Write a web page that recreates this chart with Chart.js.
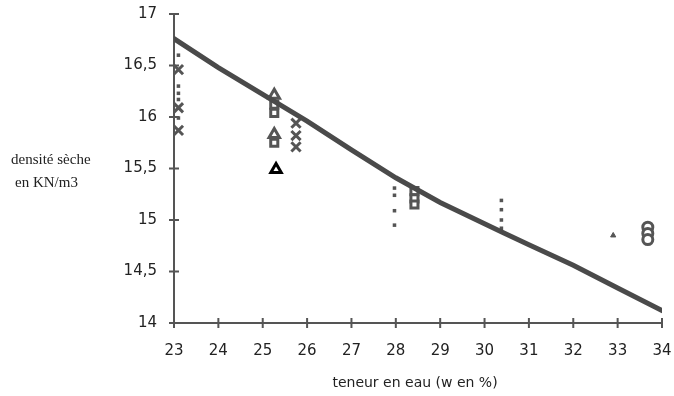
<!DOCTYPE html>
<html>
<head>
<meta charset="utf-8">
<script src="https://cdn.jsdelivr.net/npm/chart.js@4"></script>
<style>
  html, body { margin: 0; padding: 0; background: #fff; }
  #wrap { width: 674px; height: 396px; }
</style>
</head>
<body>
<div id="wrap"><canvas id="densite"></canvas></div>
<script>
// Droite d'ajustement (teneur en eau / densité sèche)
const fitW = [23, 24, 25, 26, 27, 28, 29, 30.4, 31, 32, 33, 34];
const fitD = [16.76, 16.48, 16.22, 15.96, 15.68, 15.41, 15.17, 14.88, 14.76, 14.56, 14.34, 14.12];

// Mesures, par type de symbole
const crossW = [23.1, 23.1, 23.1, 25.75, 25.75, 25.75];
const crossD = [16.46, 16.09, 15.87, 15.94, 15.82, 15.71];
const dotW = [23.1, 23.1, 23.1, 23.1, 23.1, 27.97, 27.97, 27.97, 27.97, 30.38, 30.38, 30.38, 30.38];
const dotD = [16.6, 16.3, 16.23, 16.17, 15.99, 15.31, 15.24, 15.09, 14.95, 15.19, 15.1, 15.0, 14.92];
const triW = [25.26, 25.26];
const triD = [16.21, 15.83];
const boxW = [25.26, 25.26, 25.26];
const boxD = [16.12, 16.04, 15.75];
const deltaW = [25.3];
const deltaD = [15.49];
const sqW = [28.42, 28.42, 28.42];
const sqD = [15.28, 15.21, 15.15];
const smallTriW = [32.9];
const smallTriD = [14.85];
const ringW = [33.68, 33.68, 33.68];
const ringD = [14.93, 14.87, 14.81];

const xTicks = [23, 24, 25, 26, 27, 28, 29, 30, 31, 32, 33, 34];
const yTicks = [14, 14.5, 15, 15.5, 16, 16.5, 17];

const pts = (xs, ys) => xs.map((x, i) => ({ x: x, y: ys[i] }));
const grey = '#555';

// petits traits qui traversent les axes
const crossTicks = {
  id: 'crossTicks',
  afterDraw(chart) {
    const ctx = chart.ctx;
    const xs = chart.scales.x, ys = chart.scales.y;
    const a = chart.chartArea;
    ctx.save();
    ctx.strokeStyle = grey;
    ctx.lineWidth = 2;
    xTicks.forEach(v => {
      const px = xs.getPixelForValue(v);
      ctx.beginPath();
      ctx.moveTo(px, a.bottom - 5);
      ctx.lineTo(px, a.bottom + 5);
      ctx.stroke();
    });
    yTicks.forEach(v => {
      const py = ys.getPixelForValue(v);
      ctx.beginPath();
      ctx.moveTo(a.left - 5, py);
      ctx.lineTo(a.left + 5, py);
      ctx.stroke();
    });
    ctx.restore();
  }
};

// titres des axes
const axisTitles = {
  id: 'axisTitles',
  afterDraw(chart) {
    const ctx = chart.ctx;
    ctx.save();
    ctx.fillStyle = '#222';
    ctx.textBaseline = 'middle';
    ctx.font = '15px "Liberation Serif", serif';
    ctx.textAlign = 'left';
    ctx.fillText('densité sèche', 11, 160);
    ctx.fillText('en KN/m3', 15, 183);
    ctx.font = '14px "DejaVu Sans", sans-serif';
    ctx.textAlign = 'center';
    ctx.fillText('teneur en eau (w en %)', 415, 383);
    ctx.restore();
  }
};

const ctxDensite = document.getElementById('densite').getContext('2d');
const densiteChart = new Chart(ctxDensite, {
  type: 'scatter',
  data: {
    datasets: [
      {
        type: 'line',
        data: pts(fitW, fitD),
        borderColor: '#4a4a4a',
        borderWidth: 5,
        pointRadius: 0,
        tension: 0,
        borderCapStyle: 'round'
      },
      {
        data: pts(crossW, crossD),
        pointStyle: 'crossRot',
        pointRadius: 6.5,
        borderWidth: 3,
        borderColor: grey
      },
      {
        data: pts(dotW, dotD),
        pointStyle: 'rect',
        pointRadius: 2.5,
        borderWidth: 0,
        backgroundColor: grey
      },
      {
        data: pts(triW, triD),
        pointStyle: 'triangle',
        pointRadius: 6,
        borderWidth: 3,
        borderColor: grey,
        backgroundColor: '#fff'
      },
      {
        data: pts(boxW, boxD),
        pointStyle: 'rect',
        pointRadius: 5,
        borderWidth: 3,
        borderColor: grey,
        backgroundColor: '#fff'
      },
      {
        data: pts(deltaW, deltaD),
        pointStyle: 'triangle',
        pointRadius: 6,
        borderWidth: 3,
        borderColor: '#000',
        backgroundColor: '#fff'
      },
      {
        data: pts(sqW, sqD),
        pointStyle: 'rect',
        pointRadius: 5,
        borderWidth: 3,
        borderColor: grey,
        backgroundColor: '#fff'
      },
      {
        data: pts(smallTriW, smallTriD),
        pointStyle: 'triangle',
        pointRadius: 3,
        borderWidth: 1,
        borderColor: grey,
        backgroundColor: grey
      },
      {
        data: pts(ringW, ringD),
        pointStyle: 'circle',
        pointRadius: 5,
        borderWidth: 3,
        borderColor: grey,
        backgroundColor: '#fff'
      }
    ]
  },
  options: {
    responsive: true,
    maintainAspectRatio: false,
    animation: false,
    layout: { autoPadding: false, padding: { left: 0, top: 14, right: 12, bottom: 0 } },
    plugins: {
      legend: { display: false },
      tooltip: { enabled: false }
    },
    scales: {
      x: {
        type: 'linear',
        min: 23,
        max: 34,
        afterFit: s => { s.height = 73; s.paddingRight = 0; },
        afterBuildTicks: s => { s.ticks = xTicks.map(v => ({ value: v })); },
        border: { display: true, color: grey, width: 2 },
        grid: { display: true, drawOnChartArea: false, drawTicks: false },
        ticks: {
          padding: 19,
          color: '#222',
          font: { family: '"DejaVu Sans", sans-serif', size: 15 }
        }
      },
      y: {
        min: 14,
        max: 17,
        afterFit: s => { s.width = 174; s.paddingTop = 0; s.paddingBottom = 0; },
        afterBuildTicks: s => { s.ticks = yTicks.map(v => ({ value: v })); },
        border: { display: true, color: grey, width: 2 },
        grid: { display: true, drawOnChartArea: false, drawTicks: false },
        ticks: {
          padding: 17,
          color: '#222',
          font: { family: '"DejaVu Sans", sans-serif', size: 15 },
          callback: v => String(v).replace('.', ',')
        }
      }
    }
  },
  plugins: [crossTicks, axisTitles]
});
</script>
</body>
</html>
